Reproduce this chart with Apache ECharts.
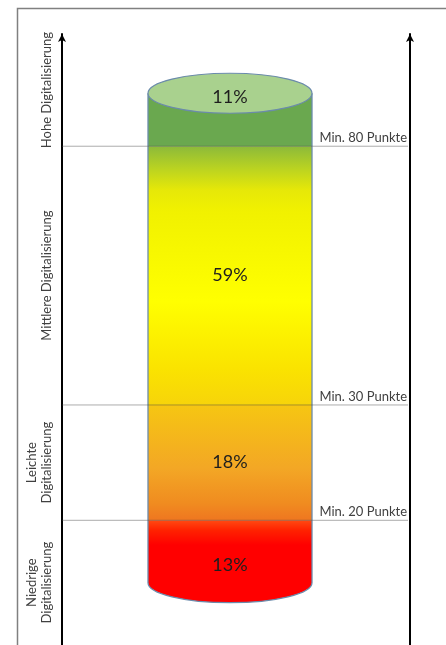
<!DOCTYPE html>
<html>
<head>
<meta charset="utf-8">
<script src="https://cdn.jsdelivr.net/npm/echarts@6/dist/echarts.min.js"></script>
<style>
  html, body { margin: 0; padding: 0; background: #fff; }
  #chart { width: 446px; height: 645px; }
</style>
</head>
<body>
<div id="chart"></div>
<script>
// Stufen der Digitalisierung (von unten nach oben)
const category = ['Digitalisierung'];
const bandNames = ['Niedrige\nDigitalisierung', 'Leichte\nDigitalisierung', 'Mittlere Digitalisierung', 'Hohe Digitalisierung'];
const bandShares = [13, 18, 59, 11];
// Grenzen der Stufen auf der (schematischen) Skala
const bandEdges = [10, 20, 38.5, 80, 88.5];
const thresholdPoints = [20, 30, 80];
const scaleMax = 98;

const FONT = 'Lato, "Open Sans", sans-serif';
const RIGHT_OFFSET = 12;
const EDGE = '#6b8bab';

// Farbverlauf je Stufe
const bandFills = [
  [[0, '#ff4a12'], [0.12, '#ff2200'], [0.3, '#ff0000'], [1, '#ff0000']],
  [[0, '#f6c612'], [0.55, '#f3a725'], [0.85, '#f08c20'], [1, '#ef7620']],
  [[0, '#8cba3a'], [0.09, '#bcd420'], [0.17, '#e6e808'], [0.25, '#f1f100'],
   [0.6, '#ffff00'], [0.86, '#fae300'], [1, '#f7d40a']],
  [[0, '#6aa84f'], [1, '#6aa84f']]
];

const cylinderData = bandShares.map((s, i) => [0, bandEdges[i], bandEdges[i + 1], s]);
const labelData = bandNames.map((n, i) => [
  0,
  i === 0 ? 0 : bandEdges[i],
  i === bandNames.length - 1 ? scaleMax : bandEdges[i + 1]
]);
const thresholdData = thresholdPoints.map((p, i) => [0, bandEdges[i + 1], p]);

function renderCylinder(params, api) {
  const i = params.dataIndex;
  const [cx, yLo] = api.coord([api.value(0), api.value(1)]);
  const yHi = api.coord([api.value(0), api.value(2)])[1];
  const rx = 82, ry = 20;
  const l = cx - rx, r = cx + rx;
  const isBottom = i === 0;
  const isTop = i === bandNames.length - 1;
  const children = [];

  let d = `M${l} ${yHi} L${l} ${yLo}`;
  d += isBottom ? ` A${rx} ${ry} 0 0 0 ${r} ${yLo}` : ` L${r} ${yLo}`;
  d += ` L${r} ${yHi} Z`;
  children.push({
    type: 'path',
    shape: { pathData: d },
    style: { fill: new echarts.graphic.LinearGradient(0, 0, 0, 1,
      bandFills[i].map(([o, c]) => ({ offset: o, color: c }))) }
  });

  let edge = `M${l} ${yHi} L${l} ${yLo}`;
  edge += isBottom ? ` A${rx} ${ry} 0 0 0 ${r} ${yLo}` : ` M${r} ${yLo}`;
  edge += ` L${r} ${yHi}`;
  children.push({
    type: 'path',
    shape: { pathData: edge },
    style: { fill: null, stroke: EDGE, lineWidth: 1.3 }
  });

  let ty = (yLo + yHi) / 2;
  if (isBottom) ty = (yLo + ry + yHi) / 2 + 4;
  if (isTop) {
    children.push({
      type: 'path',
      shape: { pathData: `M${l} ${yHi} A${rx} ${ry} 0 1 0 ${r} ${yHi} A${rx} ${ry} 0 1 0 ${l} ${yHi} Z` },
      style: { fill: '#a9d18e', stroke: EDGE, lineWidth: 1.2 }
    });
    ty = yHi + 4;
  }
  children.push({
    type: 'text',
    x: cx, y: ty,
    style: {
      text: api.value(3) + '%',
      align: 'center', verticalAlign: 'middle',
      font: '18px ' + FONT, fill: '#1e1e1e'
    }
  });
  return { type: 'group', children };
}

function renderBandLabel(params, api) {
  const y = api.coord([0, (api.value(1) + api.value(2)) / 2])[1];
  return {
    type: 'text',
    x: params.coordSys.x - 8,
    y: y,
    rotation: Math.PI / 2,
    style: {
      text: bandNames[params.dataIndex],
      align: 'center', verticalAlign: 'bottom',
      font: '13px ' + FONT, fill: '#404040', lineHeight: 15
    }
  };
}

function renderThreshold(params, api) {
  const y = api.coord([0, api.value(1)])[1];
  const x1 = params.coordSys.x;
  const x2 = params.coordSys.x + params.coordSys.width + RIGHT_OFFSET;
  return {
    type: 'group',
    children: [
      {
        type: 'line',
        shape: { x1, y1: y, x2: x2 - 2, y2: y },
        style: { stroke: 'rgba(70,70,70,0.45)', lineWidth: 1 }
      },
      {
        type: 'text',
        x: x2 - 3, y: y - 2,
        style: {
          text: 'Min. ' + api.value(2) + ' Punkte',
          align: 'right', verticalAlign: 'bottom',
          font: '13px ' + FONT, fill: '#404040'
        }
      }
    ]
  };
}

const chart = echarts.init(document.getElementById('chart'));

const axisArrow = {
  show: true,
  symbol: ['none', 'arrow'],
  symbolSize: [6, 8],
  lineStyle: { color: '#000', width: 2 }
};

chart.setOption({
  animation: false,
  backgroundColor: '#fff',
  grid: { left: 62, right: 48, top: 34, bottom: 0 },
  graphic: [{
    type: 'rect',
    left: 15, top: 6,
    shape: { width: 500, height: 700 },
    style: { fill: null, stroke: '#808080', lineWidth: 1.5 },
    z: 0
  }],
  xAxis: {
    type: 'category',
    data: category,
    show: false
  },
  yAxis: [
    {
      type: 'value', min: 0, max: scaleMax, position: 'left',
      axisLine: axisArrow,
      axisTick: { show: false }, axisLabel: { show: false }, splitLine: { show: false }
    },
    {
      type: 'value', min: 0, max: scaleMax, position: 'right', offset: RIGHT_OFFSET,
      axisLine: axisArrow,
      axisTick: { show: false }, axisLabel: { show: false }, splitLine: { show: false }
    }
  ],
  series: [
    {
      type: 'custom',
      name: 'Anteil',
      renderItem: renderCylinder,
      encode: { x: 0, y: [1, 2] },
      data: cylinderData,
      z: 2
    },
    {
      type: 'custom',
      name: 'Schwellen',
      renderItem: renderThreshold,
      encode: { x: 0, y: 1 },
      data: thresholdData,
      z: 3
    },
    {
      type: 'custom',
      name: 'Stufen',
      renderItem: renderBandLabel,
      encode: { x: 0, y: [1, 2] },
      data: labelData,
      z: 3
    }
  ]
});

window.addEventListener('resize', () => chart.resize());
</script>
</body>
</html>
